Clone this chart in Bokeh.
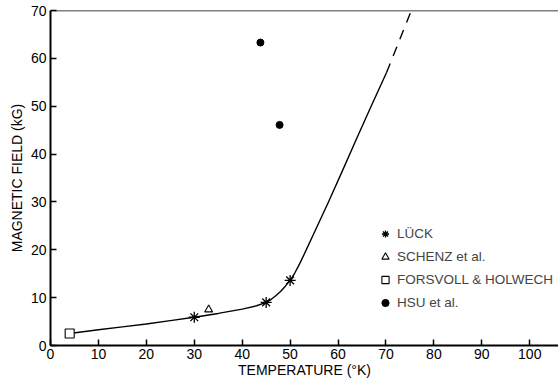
from bokeh.plotting import figure
from bokeh.models import Range1d, Span, Legend, LegendItem, FixedTicker
from bokeh.embed import file_html
from bokeh.resources import INLINE

# Data
luck_T = [30, 45, 50]
luck_B = [5.9, 9.0, 13.6]
schenz_T = [33]
schenz_B = [7.5]
forsvoll_T = [4]
forsvoll_B = [2.5]
hsu_T = [43.8, 47.8]
hsu_B = [63.3, 46.1]

curve_T = [4, 10, 15, 20, 25, 30, 35, 40, 43, 45, 46, 47, 48, 49, 50, 51, 52, 53, 55, 58, 61, 64, 67, 70.1]
curve_B = [2.5, 3.3, 3.9, 4.5, 5.2, 5.9, 6.7, 7.6, 8.3, 9.0, 9.6, 10.4, 11.3, 12.4, 13.6, 15.2, 17.1, 19.2, 23.5, 30.0, 36.7, 43.5, 50.2, 57.0]
dash_T = [70.1, 75.3]
dash_B = [57.0, 70.0]

x_ticks = [0, 10, 20, 30, 40, 50, 60, 70, 80, 90, 100]
y_ticks = [0, 10, 20, 30, 40, 50, 60, 70]

FONT = "Liberation Sans"

p = figure(width=558, height=381, output_backend="svg", toolbar_location=None,
           x_range=Range1d(0, 106), y_range=Range1d(0, 70),
           min_border_left=50, min_border_right=0, min_border_top=10, min_border_bottom=36)
p.outline_line_color = None
p.grid.visible = False
p.background_fill_color = "white"

for ax, ticks in ((p.xaxis[0], x_ticks), (p.yaxis[0], y_ticks)):
    ax.ticker = FixedTicker(ticks=ticks)
    ax.axis_line_width = 2
    ax.axis_line_color = "black"
    ax.major_tick_in = 6
    ax.major_tick_out = 0
    ax.major_tick_line_width = 1.5
    ax.minor_tick_line_color = None
    ax.major_label_text_font = FONT
    ax.major_label_text_font_size = "14px"
    ax.major_label_text_color = "black"
    ax.axis_label_text_font = FONT
    ax.axis_label_text_font_size = "14px"
    ax.axis_label_text_font_style = "normal"
    ax.axis_label_text_color = "black"

p.xaxis.axis_label = "TEMPERATURE (°K)"
p.yaxis.axis_label = "MAGNETIC FIELD (kG)"
p.xaxis.major_label_standoff = 3
p.yaxis.major_label_standoff = 4
p.xaxis.axis_label_standoff = 0
p.yaxis.axis_label_standoff = 3

p.add_layout(Span(location=70, dimension="width", line_color="black", line_width=1.5))

p.line(curve_T, curve_B, line_color="black", line_width=1.4)
p.line(dash_T, dash_B, line_color="black", line_width=1.4, line_dash="10 8")

r1 = p.scatter(luck_T, luck_B, marker="asterisk", size=11, line_color="black", line_width=1.3)
r2 = p.scatter(schenz_T, schenz_B, marker="triangle", size=8, fill_color="white", line_color="black", line_width=1.1)
r3 = p.scatter(forsvoll_T, forsvoll_B, marker="square", size=9, fill_color="white", line_color="black", line_width=1.1)
r4 = p.scatter(hsu_T, hsu_B, marker="circle", size=7, fill_color="black", line_color="black")

legend = Legend(items=[
    LegendItem(label="LÜCK", renderers=[r1], index=0),
    LegendItem(label="SCHENZ et al.", renderers=[r2], index=0),
    LegendItem(label="FORSVOLL & HOLWECH", renderers=[r3], index=0),
    LegendItem(label="HSU et al.", renderers=[r4], index=0),
], location=(326, 32), orientation="vertical")
legend.background_fill_alpha = 0
legend.border_line_color = None
legend.padding = 0
legend.margin = 0
legend.spacing = 2
legend.glyph_width = 18
legend.label_standoff = 3
legend.label_text_font = FONT
legend.label_text_font_size = "13.5px"
legend.label_height = 21
legend.glyph_height = 21
p.add_layout(legend)

open("out.html", "w").write(file_html(p, INLINE))
